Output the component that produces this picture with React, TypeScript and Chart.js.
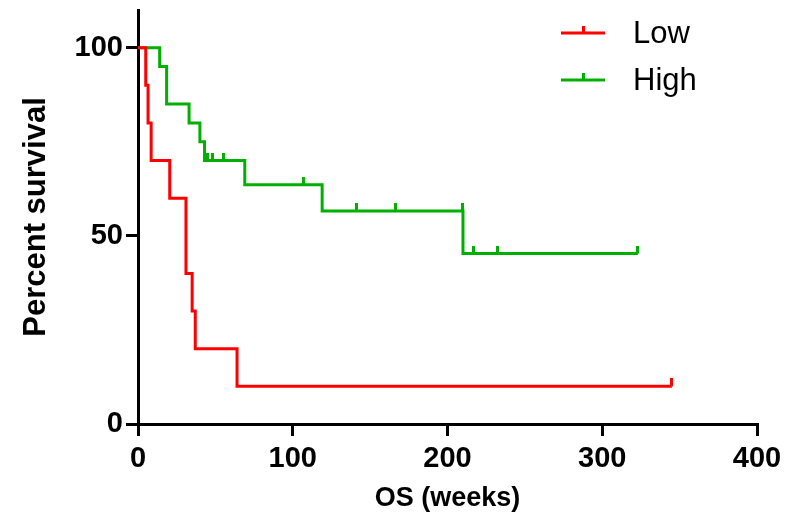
import React, { useEffect, useRef } from "react";
import { Chart, registerables } from "chart.js";

Chart.register(...registerables);

// ---- data ----
const xTickValues = [0, 100, 200, 300, 400];
const yTickValues = [0, 50, 100];

const seriesNames = ["Low", "High"];
const seriesColors = ["#ff0000", "#00b000"];

const lowWeeks = [0, 5, 6.5, 8.5, 20.5, 31, 35, 37, 64, 345];
const lowSurvival = [100, 90, 80, 70, 60, 40, 30, 20, 10, 10];
const lowCensored = [0, 0, 0, 0, 0, 0, 0, 0, 0, 1];

const highWeeks = [0, 14, 18.5, 33, 40, 43, 45, 48, 55, 69, 107, 119, 141, 166.5, 210, 210, 216.5, 232.5, 323];
const highSurvival = [100, 95, 85, 80, 75, 70, 70, 70, 70, 63.6, 63.6, 56.6, 56.6, 56.6, 56.6, 45.3, 45.3, 45.3, 45.3];
const highCensored = [0, 0, 0, 0, 0, 0, 1, 1, 1, 0, 1, 0, 1, 1, 1, 0, 1, 1, 1];

const FONT = '"Liberation Sans", Arial, Helvetica, sans-serif';

function makeTickImage(color: string) {
  const c = document.createElement("canvas");
  c.width = 3;
  c.height = 16;
  const g = c.getContext("2d")!;
  g.fillStyle = color;
  g.fillRect(0, 0, 3, 8);
  return c;
}

const legendPlugin = {
  id: "kmLegend",
  afterDraw(chart: any) {
    const ctx = chart.ctx;
    ctx.save();
    chart.data.datasets.forEach((ds: any, i: number) => {
      const y = 33 + i * 47;
      ctx.strokeStyle = ds.borderColor;
      ctx.lineWidth = 3;
      ctx.beginPath();
      ctx.moveTo(561, y);
      ctx.lineTo(605, y);
      ctx.moveTo(583.5, y);
      ctx.lineTo(583.5, y - 7);
      ctx.stroke();
      ctx.fillStyle = "#000";
      ctx.font = `31px ${FONT}`;
      ctx.textAlign = "left";
      ctx.textBaseline = "alphabetic";
      ctx.fillText(ds.label, 633, y + 10);
    });
    ctx.restore();
  },
};

export default function App() {
  const ref = useRef<HTMLCanvasElement>(null);

  useEffect(() => {
    const series = [
      { weeks: lowWeeks, surv: lowSurvival, cens: lowCensored },
      { weeks: highWeeks, surv: highSurvival, cens: highCensored },
    ];
    const datasets = series.map((s, i) => {
      const img = makeTickImage(seriesColors[i]);
      return {
        label: seriesNames[i],
        data: s.weeks.map((w, j) => ({ x: w, y: s.surv[j] })),
        borderColor: seriesColors[i],
        backgroundColor: seriesColors[i],
        borderWidth: 3,
        stepped: "before" as const,
        fill: false,
        pointStyle: img as any,
        pointRadius: (c: any) => (s.cens[c.dataIndex] ? 6 : 0),
        pointHoverRadius: 0,
        clip: false as any,
      };
    });

    const tickFont = { family: FONT, size: 29, weight: "bold" as const };
    const chart = new Chart(ref.current!, {
      type: "line",
      data: { datasets },
      plugins: [legendPlugin],
      options: {
        animation: false,
        responsive: false,
        devicePixelRatio: 1,
        events: [],
        layout: { padding: { left: 0, top: 10, right: 39, bottom: 0 } },
        plugins: { legend: { display: false }, tooltip: { enabled: false } },
        scales: {
          x: {
            type: "linear",
            min: 0,
            max: 400,
            afterBuildTicks: (scale: any) => {
              scale.ticks = xTickValues.map((v) => ({ value: v }));
            },
            afterFit: (scale: any) => {
              scale.height = 99;
              scale.paddingLeft = 0;
              scale.paddingRight = 0;
            },
            ticks: { font: tickFont, color: "#000", padding: 6, maxRotation: 0, autoSkip: false },
            grid: { display: true, drawOnChartArea: false, drawTicks: true, tickLength: 12, lineWidth: 3, color: "#000" },
            border: { display: true, color: "#000", width: 3 },
            title: {
              display: true,
              text: "OS (weeks)",
              color: "#000",
              font: { family: FONT, size: 27, weight: "bold" },
              padding: { top: 0, bottom: 8 },
            },
          },
          y: {
            type: "linear",
            min: 0,
            max: 110,
            afterBuildTicks: (scale: any) => {
              scale.ticks = yTickValues.map((v) => ({ value: v }));
            },
            afterFit: (scale: any) => {
              scale.width = 138;
              scale.paddingTop = 0;
              scale.paddingBottom = 0;
            },
            ticks: { font: tickFont, color: "#000", padding: 3, autoSkip: false },
            grid: { display: true, drawOnChartArea: false, drawTicks: true, tickLength: 12, lineWidth: 3, color: "#000" },
            border: { display: true, color: "#000", width: 3 },
            title: {
              display: true,
              text: "Percent survival",
              color: "#000",
              font: { family: FONT, size: 31, weight: "bold" },
              padding: { top: 18, bottom: 0 },
            },
          },
        },
      },
    });
    return () => chart.destroy();
  }, []);

  return (
    <div style={{ position: "fixed", left: 0, top: 0, width: 796, height: 523, background: "#fff" }}>
      <canvas ref={ref} width={796} height={523} style={{ display: "block" }} />
    </div>
  );
}
